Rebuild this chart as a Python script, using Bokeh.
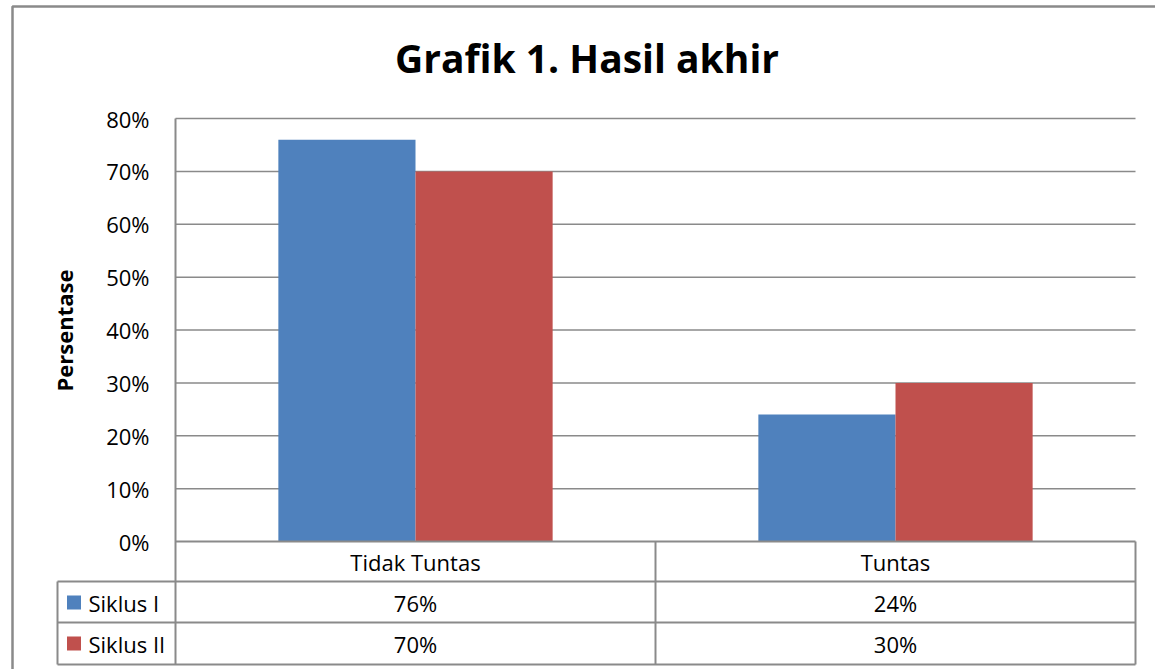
import math
from bokeh.plotting import figure
from bokeh.models import Range1d, BoxAnnotation
from bokeh.core.properties import value
from bokeh.embed import file_html
from bokeh.resources import INLINE

# ---------------- data ----------------
title_text = "Grafik 1. Hasil akhir"
y_axis_title = "Persentase"
categories = ["Tidak Tuntas", "Tuntas"]
series_names = ["Siklus I", "Siklus II"]
siklus_1 = [0.76, 0.24]
siklus_2 = [0.70, 0.30]
table_row_1 = ["76%", "24%"]
table_row_2 = ["70%", "30%"]
y_ticks = [0.0, 0.1, 0.2, 0.3, 0.4, 0.5, 0.6, 0.7, 0.8]
y_tick_labels = ["0%", "10%", "20%", "30%", "40%", "50%", "60%", "70%", "80%"]
colors = ["#4F81BD", "#C0504D"]

# ---------------- layout (pixels) ----------------
W, H = 1155, 669
PL, PR = 175, 1135      # plot area left / right
PT, PB = 118, 541       # top of value axis / zero line
ROW1, ROW2, ROW3 = 581, 622, 664   # table row bottoms
LEG_L = 57              # legend column left edge
n = len(categories)
ymax = y_ticks[-1]
sx = (PR - PL) / n
sy = (PB - PT) / ymax


def X(px):
    return (px - PL) / sx


def Y(py):
    return (PB - py) / sy


FONT = value("Open Sans")
GRID = "#8a8a8a"
FS = "22px"

p = figure(width=W, height=H,
           x_range=Range1d(X(0), X(W)), y_range=Range1d(Y(H), Y(0)),
           x_axis_type=None, y_axis_type=None,
           min_border=0, toolbar_location=None, output_backend="svg")
p.grid.visible = False
p.outline_line_color = None
p.background_fill_color = "white"
p.border_fill_color = "white"

# outer chart border
p.add_layout(BoxAnnotation(left=X(12), right=X(W + 20), top=Y(6), bottom=Y(H + 20),
                           fill_color=None, fill_alpha=0, line_color=GRID, line_alpha=1.0,
                           line_width=2.5))

# gridlines
p.segment(x0=0, x1=n, y0=y_ticks[1:], y1=y_ticks[1:], line_color=GRID, line_width=1.5)

# bars (gap width 150%)
bw = 1 / 3.5
xs1 = [i + 0.5 - bw / 2 for i in range(n)]
xs2 = [i + 0.5 + bw / 2 for i in range(n)]
p.vbar(x=xs1, top=siklus_1, bottom=0, width=bw, fill_color=colors[0], line_color=None)
p.vbar(x=xs2, top=siklus_2, bottom=0, width=bw, fill_color=colors[1], line_color=None)

# table lines
p.segment(x0=[0, X(LEG_L), X(LEG_L), X(LEG_L)],
          x1=[n, n, n, n],
          y0=[0, Y(ROW1), Y(ROW2), Y(ROW3)],
          y1=[0, Y(ROW1), Y(ROW2), Y(ROW3)],
          line_color=GRID, line_width=2)
p.segment(x0=[X(LEG_L), 0] + list(range(1, n + 1)),
          x1=[X(LEG_L), 0] + list(range(1, n + 1)),
          y0=[Y(ROW1), ymax] + [0] * n,
          y1=[Y(ROW3)] * (2 + n),
          line_color=GRID, line_width=2)

# y tick labels
p.text(x=X(149), y=y_ticks, text=y_tick_labels, text_align="right", text_baseline="middle",
       text_font=FONT, text_font_size=FS, text_color="black")

# y axis title
p.text(x=X(63), y=Y(330), text=[y_axis_title], angle=math.pi / 2, text_align="center",
       text_baseline="middle", text_font=FONT, text_font_size="22px", text_font_style="bold",
       text_color="black")

# title
p.text(x=X(586.5), y=Y(57), text=[title_text], text_align="center", text_baseline="middle",
       text_font=FONT, text_font_size="39px", text_font_style="bold", text_color="black")

# table texts
cx = [i + 0.5 for i in range(n)]
p.text(x=cx, y=Y(561), text=categories, text_align="center", text_baseline="middle",
       text_font=FONT, text_font_size=FS, text_color="black")
p.text(x=cx, y=Y(602), text=table_row_1, text_align="center", text_baseline="middle",
       text_font=FONT, text_font_size=FS, text_color="black")
p.text(x=cx, y=Y(643), text=table_row_2, text_align="center", text_baseline="middle",
       text_font=FONT, text_font_size=FS, text_color="black")

# legend keys in table
p.scatter(x=X(73.5), y=[Y(602), Y(643)], marker="square", size=14,
          fill_color=colors, line_color=None)
p.text(x=X(88), y=[Y(602), Y(643)], text=series_names, text_align="left", text_baseline="middle",
       text_font=FONT, text_font_size=FS, text_color="black")

open("out.html", "w").write(file_html(p, INLINE))
